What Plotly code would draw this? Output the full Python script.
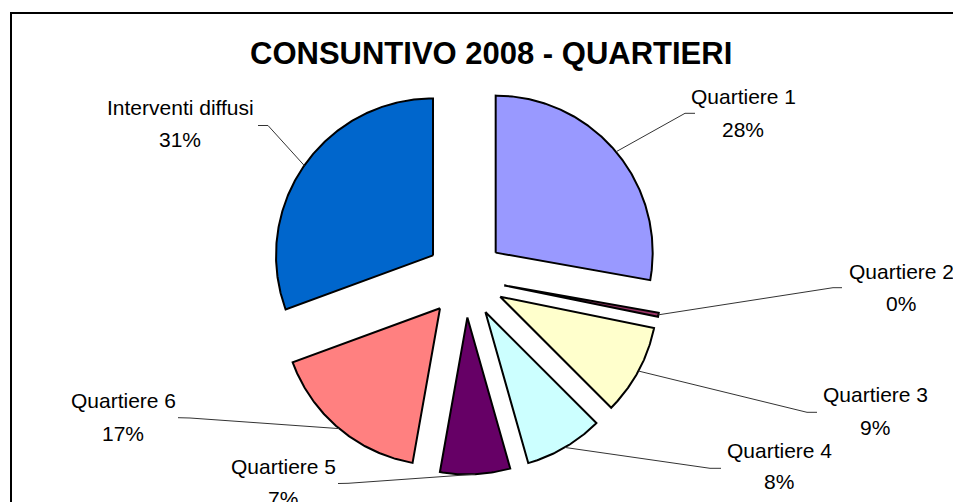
import numpy as np
import plotly.graph_objects as go

# ---------------- data ----------------
categories = ["Quartiere 1", "Quartiere 2", "Quartiere 3", "Quartiere 4",
              "Quartiere 5", "Quartiere 6", "Interventi diffusi"]
values = [27.8, 0.4, 9.3, 8.1, 7.2, 16.6, 30.6]
colors = ["#9999FF", "#993366", "#FFFFCC", "#CCFFFF", "#660066", "#FF8080", "#0066CC"]
title_text = "CONSUNTIVO 2008 - QUARTIERI"

# ---------------- layout parameters (pixel space) ----------------
W, H = 953, 502
CX, CY = 465.4, 278.0      # pie centre
R = 157.0                  # pie radius
EXPLODE = 39.5             # explosion distance of every slice
FONT = "Liberation Sans, Arial, sans-serif"

# label placement: name-line centre, percent-line centre, leader start, leader elbow
label_layout = {
    "Quartiere 1": dict(name=(743, 96), pct=(743, 129.5), start=(695, 113.3), elbow=(685, 113.3)),
    "Quartiere 2": dict(name=(901, 271.5), pct=(901, 303), start=(842, 287.7), elbow=(833, 287.7)),
    "Quartiere 3": dict(name=(875, 394), pct=(875, 427), start=(817, 412.3), elbow=(807, 412.3)),
    "Quartiere 4": dict(name=(779, 450.5), pct=(779, 481), start=(721, 468.3), elbow=(710, 468.3)),
    "Quartiere 5": dict(name=(283, 466), pct=(283, 498), start=(338, 483.5), elbow=(348, 483.3)),
    "Quartiere 6": dict(name=(123, 400.5), pct=(123, 433.5), start=(178, 417.7), elbow=(190, 418)),
    "Interventi diffusi": dict(name=(180, 107.5), pct=(180, 139), start=(258, 125.5), elbow=(268, 125.5)),
}

vals = np.array(values, dtype=float)
total = vals.sum()
frac = vals / total
ends = np.cumsum(frac) * 360.0
starts = ends - frac * 360.0

fig = go.Figure()


def pt(angle_deg, dist, ox=CX, oy=CY):
    a = np.radians(angle_deg)
    return ox + dist * np.sin(a), oy - dist * np.cos(a)


anchors = []
for cat, a0, a1, col in zip(categories, starts, ends, colors):
    mid = (a0 + a1) / 2
    tx, ty = pt(mid, EXPLODE)
    th = np.linspace(a0, a1, max(int((a1 - a0) * 2) + 2, 3))
    ax = tx + R * np.sin(np.radians(th))
    ay = ty - R * np.cos(np.radians(th))
    xs = np.concatenate([[tx], ax, [tx]])
    ys = np.concatenate([[ty], ay, [ty]])
    fig.add_trace(go.Scatter(x=xs, y=ys, mode="lines", fill="toself",
                             fillcolor=col, line=dict(color="black", width=2),
                             hoverinfo="skip", showlegend=False))
    anchors.append(pt(mid, EXPLODE + R))

# leader lines
for cat, (axp, ayp) in zip(categories, anchors):
    L = label_layout[cat]
    fig.add_trace(go.Scatter(x=[L["start"][0], L["elbow"][0], axp],
                             y=[L["start"][1], L["elbow"][1], ayp],
                             mode="lines", line=dict(color="#333333", width=1),
                             hoverinfo="skip", showlegend=False))

annotations = []
for cat, v in zip(categories, vals):
    L = label_layout[cat]
    pct = f"{v / total * 100:.0f}%"
    for txt, pos in ((cat, L["name"]), (pct, L["pct"])):
        annotations.append(dict(x=pos[0], y=pos[1], text=txt, showarrow=False,
                                xanchor="center", yanchor="middle",
                                font=dict(family=FONT, size=21, color="black")))

annotations.append(dict(x=491, y=53, text=f"<b>{title_text}</b>", showarrow=False,
                        xanchor="center", yanchor="middle",
                        font=dict(family=FONT, size=31, color="black")))

# chart frame: only the top and left edges fall inside the visible window
frame_path = f"M 11 {H} L 11 13 L {W} 13"

fig.update_layout(
    width=W, height=H,
    margin=dict(l=0, r=0, t=0, b=0),
    paper_bgcolor="white", plot_bgcolor="white",
    xaxis=dict(range=[0, W], visible=False, fixedrange=True),
    yaxis=dict(range=[H, 0], visible=False, fixedrange=True),
    annotations=annotations,
    shapes=[dict(type="path", xref="x", yref="y", path=frame_path,
                 line=dict(color="black", width=2), layer="above")],
    showlegend=False,
)

fig.write_html("out.html", config={"displayModeBar": False},
               post_script="document.body.style.margin='0';document.body.style.overflow='hidden';")
